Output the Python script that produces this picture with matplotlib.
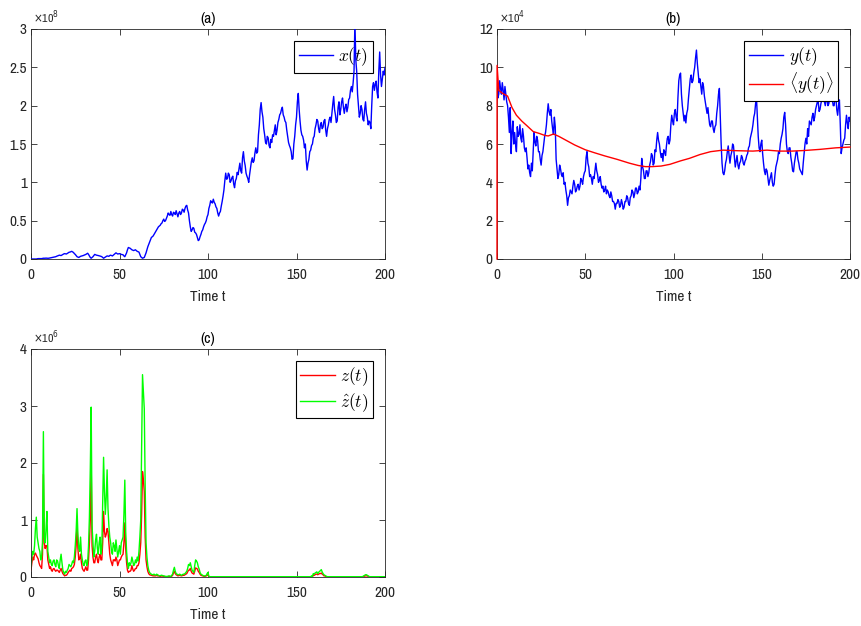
import numpy as np
import matplotlib
matplotlib.use("Agg")
import matplotlib.pyplot as plt
from matplotlib.font_manager import FontProperties, fontManager
from matplotlib.ticker import FuncFormatter

# ---------------- data ----------------
# panel (a): x(t), units of 1e8; values at integer t = 0..200
x_vals = [
    0.00, 0.00, 0.00, 0.00, 0.005, 0.005, 0.005, 0.01, 0.01, 0.01,
    0.01, 0.015, 0.02, 0.025, 0.03, 0.04, 0.05, 0.045, 0.06, 0.07,
    0.065, 0.08, 0.09, 0.10, 0.085, 0.06, 0.03, 0.02, 0.035, 0.04,
    0.05, 0.06, 0.075, 0.04, 0.01, 0.03, 0.06, 0.05, 0.045, 0.04,
    0.03, 0.01, 0.025, 0.04, 0.035, 0.05, 0.04, 0.06, 0.08, 0.065,
    0.07, 0.06, 0.055, 0.03, 0.08, 0.15, 0.14, 0.12, 0.11, 0.12,
    0.10, 0.09, 0.03, 0.01, 0.02, 0.08, 0.16, 0.22, 0.28, 0.30,
    0.34, 0.38, 0.42, 0.44, 0.47, 0.52, 0.50, 0.56, 0.58, 0.62,
    0.56, 0.60, 0.63, 0.55, 0.62, 0.60, 0.64, 0.66, 0.70, 0.60,
    0.42, 0.38, 0.40, 0.34, 0.28, 0.25, 0.32, 0.38, 0.45, 0.50,
    0.58, 0.70, 0.74, 0.78, 0.72, 0.66, 0.56, 0.62, 0.75, 0.90,
    1.12, 1.05, 1.10, 1.02, 1.08, 0.93, 1.05, 1.10, 1.25, 1.12,
    1.40, 1.22, 1.08, 1.00, 1.18, 1.32, 1.28, 1.45, 1.40, 1.75,
    2.04, 1.85, 1.62, 1.50, 1.58, 1.45, 1.52, 1.60, 1.75, 1.68,
    1.82, 1.90, 1.98, 1.85, 1.78, 1.60, 1.48, 1.40, 1.31, 1.60,
    1.85, 2.16, 1.80, 1.62, 1.55, 1.50, 1.16, 1.30, 1.42, 1.50,
    1.60, 1.75, 1.80, 1.65, 1.78, 1.72, 1.82, 1.60, 1.75, 1.85,
    1.90, 2.12, 1.88, 1.80, 2.05, 1.95, 2.10, 1.90, 2.02, 1.98,
    2.10, 2.25, 2.30, 3.10, 2.45, 2.00, 1.90, 1.95, 1.80, 2.05,
    1.85, 1.80, 1.70, 2.25, 2.20, 2.32, 2.10, 2.70, 2.25, 2.45,
    2.50,
]
# x(t) at half-integer t = 0.5..199.5
x_half = [
    0.00, 0.00, 0.00, 0.003, 0.005, 0.004, 0.008, 0.01, 0.012, 0.01,
    0.012, 0.018, 0.022, 0.028, 0.036, 0.045, 0.048, 0.052, 0.066, 0.068,
    0.072, 0.088, 0.095, 0.092, 0.07, 0.045, 0.025, 0.028, 0.038, 0.045,
    0.055, 0.068, 0.06, 0.02, 0.02, 0.045, 0.055, 0.048, 0.042, 0.035,
    0.02, 0.018, 0.032, 0.038, 0.045, 0.045, 0.05, 0.07, 0.072, 0.068,
    0.065, 0.058, 0.04, 0.055, 0.12, 0.145, 0.13, 0.115, 0.115, 0.11,
    0.095, 0.06, 0.02, 0.015, 0.05, 0.12, 0.19, 0.25, 0.29, 0.32,
    0.36, 0.40, 0.43, 0.46, 0.50, 0.49, 0.53, 0.60, 0.57, 0.58,
    0.61, 0.58, 0.59, 0.60, 0.58, 0.65, 0.61, 0.69, 0.64, 0.50,
    0.36, 0.41, 0.35, 0.32, 0.24, 0.29, 0.36, 0.42, 0.47, 0.55,
    0.66, 0.76, 0.73, 0.74, 0.68, 0.60, 0.60, 0.69, 0.82, 1.02,
    1.04, 1.12, 1.00, 1.06, 0.98, 1.02, 1.13, 1.18, 1.15, 1.32,
    1.28, 1.12, 1.05, 1.10, 1.27, 1.26, 1.38, 1.38, 1.62, 1.95,
    1.92, 1.70, 1.52, 1.60, 1.48, 1.56, 1.62, 1.68, 1.62, 1.78,
    1.88, 1.95, 1.88, 1.80, 1.68, 1.52, 1.45, 1.30, 1.50, 1.75,
    2.05, 1.95, 1.68, 1.60, 1.45, 1.28, 1.25, 1.40, 1.48, 1.58,
    1.70, 1.82, 1.70, 1.75, 1.70, 1.80, 1.68, 1.70, 1.82, 1.78,
    2.02, 1.95, 1.78, 1.98, 1.88, 2.05, 1.98, 1.98, 1.92, 2.08,
    2.20, 2.18, 2.45, 2.60, 2.15, 1.85, 2.00, 1.82, 1.95, 1.90,
    1.75, 1.78, 2.00, 2.30, 2.28, 2.18, 2.45, 2.40, 2.35, 2.40,
]

# panel (b): y(t), units of 1e4; integer t = 0..200
y_vals = [
    10.1, 8.6, 8.9, 9.2, 8.3, 8.6, 8.0, 6.6, 5.5, 7.2,
    6.6, 5.6, 6.4, 7.0, 6.1, 6.4, 5.6, 5.3, 4.9, 4.3,
    4.6, 6.6, 5.9, 6.2, 5.6, 4.9, 5.6, 6.4, 7.0, 8.1,
    7.5, 7.2, 6.5, 6.9, 4.7, 4.4, 4.7, 4.3, 3.9, 3.6,
    2.8, 3.3, 3.5, 3.8, 3.9, 3.6, 3.9, 3.8, 4.1, 4.3,
    4.6, 5.6, 4.8, 4.4, 3.9, 4.2, 5.0, 4.4, 4.1, 3.9,
    3.8, 3.6, 3.4, 3.5, 3.2, 3.3, 3.0, 2.6, 2.9, 3.0,
    2.8, 2.9, 2.7, 3.0, 3.2, 2.8, 3.3, 3.5, 3.4, 3.7,
    3.5, 3.6, 5.25, 4.6, 4.2, 4.6, 4.5, 5.1, 5.4, 5.0,
    5.6, 6.6, 6.0, 5.3, 5.1, 5.6, 5.9, 6.4, 6.2, 7.5,
    7.0, 7.8, 7.2, 9.3, 9.7, 8.0, 7.2, 7.1, 7.8, 8.9,
    9.6, 9.3, 10.0, 10.9, 9.7, 9.4, 8.6, 9.0, 8.2, 7.6,
    7.4, 6.9, 7.2, 6.6, 7.0, 8.0, 8.9, 6.0, 4.5, 4.6,
    5.2, 5.9, 5.0, 5.6, 5.9, 4.8, 5.4, 4.7, 5.1, 5.3,
    4.9, 5.2, 5.5, 5.9, 6.5, 7.0, 7.6, 8.45, 6.4, 5.6,
    6.2, 5.0, 4.4, 4.6, 3.85, 4.3, 4.0, 3.9, 4.8, 5.2,
    5.5, 6.3, 6.8, 7.65, 6.0, 5.5, 5.8, 5.0, 4.55, 5.3,
    5.6, 5.0, 4.6, 4.4, 5.5, 6.3, 6.8, 7.2, 7.0, 7.6,
    7.4, 8.0, 8.2, 7.8, 8.3, 8.6, 8.0, 8.4, 8.1, 8.7,
    8.3, 8.0, 8.5, 7.5, 8.3, 5.5, 6.0, 6.3, 7.5, 6.8,
    7.2,
]
# y(t) at half-integer t = 0.5..199.5
y_half = [
    8.4, 9.3, 8.6, 8.8, 9.0, 8.2, 7.4, 7.9, 6.6, 6.0,
    6.0, 6.9, 6.5, 6.3, 6.8, 5.8, 5.8, 4.7, 4.5, 5.0,
    5.6, 6.1, 6.4, 5.6, 5.2, 5.4, 6.0, 6.6, 7.6, 7.7,
    7.8, 6.8, 7.4, 5.2, 4.2, 4.9, 4.4, 4.5, 4.0, 3.3,
    3.2, 3.6, 3.4, 4.1, 3.5, 3.8, 3.6, 4.2, 3.9, 4.5,
    5.3, 5.0, 4.3, 4.2, 4.3, 4.6, 4.6, 4.0, 4.3, 3.7,
    3.5, 3.8, 3.6, 3.3, 3.5, 3.0, 2.9, 2.9, 3.1, 2.7,
    3.1, 2.6, 3.0, 3.3, 2.9, 3.2, 3.6, 3.2, 3.7, 3.4,
    3.8, 4.2, 4.8, 4.2, 4.6, 4.3, 4.9, 5.5, 4.9, 5.7,
    6.2, 6.2, 5.6, 5.5, 5.7, 5.4, 6.3, 6.0, 7.0, 7.2,
    7.6, 7.4, 8.4, 9.6, 8.6, 7.6, 7.5, 7.6, 8.4, 9.4,
    9.2, 9.7, 10.5, 10.2, 9.2, 9.0, 9.2, 8.5, 7.9, 7.9,
    7.0, 7.2, 6.8, 6.9, 7.6, 8.6, 7.5, 5.0, 4.4, 5.0,
    5.6, 5.4, 5.4, 6.0, 5.3, 5.1, 4.9, 5.0, 5.4, 5.0,
    5.1, 5.4, 5.8, 6.3, 6.7, 7.4, 8.1, 7.4, 5.8, 6.0,
    5.5, 4.6, 4.7, 4.2, 4.1, 4.5, 3.8, 4.4, 5.0, 5.6,
    6.0, 6.5, 7.4, 7.0, 5.6, 5.8, 5.3, 4.6, 5.0, 5.6,
    5.2, 4.7, 4.5, 5.0, 6.0, 6.0, 6.4, 7.1, 7.4, 7.2,
    7.8, 8.2, 7.7, 8.1, 8.5, 8.2, 8.3, 8.0, 8.5, 8.6,
    8.0, 8.4, 7.8, 8.0, 7.0, 5.8, 6.2, 7.0, 7.1, 7.4,
]

# panel (b): running mean <y(t)>, units of 1e4
ym_t = [0, 0.05, 1, 3, 5, 6, 8.5, 11, 14, 17, 20.5, 24, 27, 29, 32, 35,
        39, 44, 50, 55, 61, 68, 75, 80, 84, 88, 93, 98, 104, 109, 115,
        121, 128, 136, 145, 153, 160, 167, 174, 183, 192, 200]
ym_vals = [0.0, 10.1, 8.8, 8.65, 8.55, 8.5, 7.9, 7.5, 7.2, 6.95, 6.65,
           6.55, 6.45, 6.42, 6.52, 6.4, 6.2, 5.95, 5.7, 5.55, 5.38, 5.2,
           5.0, 4.88, 4.82, 4.82, 4.85, 4.94, 5.12, 5.25, 5.45, 5.6,
           5.68, 5.65, 5.63, 5.68, 5.63, 5.63, 5.66, 5.72, 5.8, 5.84]

# panel (c): z_hat(t), units of 1e6; integer t = 0..200
zhat_vals = [
    0.18, 0.45, 0.55, 1.05, 0.60, 0.45, 0.35, 2.55, 0.60, 1.15,
    0.35, 0.30, 0.20, 0.30, 0.18, 0.28, 0.15, 0.40, 0.12, 0.05,
    0.08, 0.15, 0.20, 0.22, 0.25, 0.55, 1.20, 0.50, 0.70, 0.30,
    0.20, 0.30, 0.25, 1.05, 2.98, 0.60, 0.45, 0.75, 0.40, 0.70,
    0.50, 2.10, 1.10, 1.88, 0.90, 0.60, 0.40, 0.55, 0.65, 0.35,
    0.55, 0.60, 0.70, 1.70, 0.45, 0.15, 0.20, 0.35, 0.20, 0.30,
    0.35, 0.45, 1.00, 3.55, 2.95, 0.60, 0.20, 0.08, 0.05, 0.04,
    0.04, 0.05, 0.03, 0.02, 0.03, 0.02, 0.01, 0.01, 0.02, 0.01,
    0.05, 0.17, 0.06, 0.04, 0.05, 0.03, 0.05, 0.06, 0.10, 0.22,
    0.25, 0.12, 0.08, 0.30, 0.25, 0.14, 0.05, 0.03, 0.02, 0.03,
    0.08, 0.005, 0.005, 0.005, 0.005, 0.005, 0.005, 0.005, 0.005, 0.005,
    0.005, 0.005, 0.005, 0.005, 0.005, 0.005, 0.005, 0.005, 0.005, 0.005,
    0.005, 0.005, 0.005, 0.005, 0.005, 0.005, 0.005, 0.005, 0.005, 0.005,
    0.005, 0.005, 0.005, 0.005, 0.005, 0.005, 0.005, 0.005, 0.005, 0.005,
    0.005, 0.005, 0.005, 0.005, 0.005, 0.005, 0.005, 0.005, 0.005, 0.005,
    0.005, 0.005, 0.005, 0.005, 0.005, 0.005, 0.005, 0.005, 0.005, 0.01,
    0.05, 0.08, 0.06, 0.10, 0.13, 0.06, 0.03, 0.01, 0.005, 0.005,
    0.005, 0.005, 0.005, 0.005, 0.005, 0.005, 0.005, 0.005, 0.005, 0.005,
    0.005, 0.005, 0.005, 0.005, 0.005, 0.005, 0.005, 0.005, 0.02, 0.04,
    0.03, 0.01, 0.005, 0.005, 0.005, 0.005, 0.005, 0.005, 0.005, 0.005,
    0.005,
]
# z_hat(t) at half-integer t = 0.5..199.5
zhat_half = [
    0.35, 0.40, 0.85, 0.70, 0.50, 0.30, 0.60, 0.70, 0.85, 0.45,
    0.25, 0.22, 0.28, 0.22, 0.30, 0.20, 0.30, 0.25, 0.08, 0.10,
    0.12, 0.22, 0.18, 0.28, 0.35, 0.80, 0.75, 0.45, 0.40, 0.22,
    0.28, 0.20, 0.55, 1.90, 0.90, 0.35, 0.65, 0.50, 0.60, 0.40,
    1.30, 1.50, 1.40, 1.20, 0.70, 0.45, 0.60, 0.45, 0.50, 0.45,
    0.40, 0.65, 1.10, 0.80, 0.25, 0.25, 0.25, 0.28, 0.22, 0.25,
    0.28, 0.70, 2.20, 3.25, 1.60, 0.35, 0.12, 0.06, 0.04, 0.05,
    0.03, 0.04, 0.02, 0.03, 0.02, 0.015, 0.01, 0.015, 0.015, 0.03,
    0.12, 0.10, 0.05, 0.04, 0.04, 0.04, 0.05, 0.08, 0.15, 0.20,
    0.18, 0.10, 0.20, 0.28, 0.18, 0.08, 0.04, 0.02, 0.02, 0.06,
    0.01, 0.005, 0.005, 0.005, 0.005, 0.005, 0.005, 0.005, 0.005, 0.005,
    0.005, 0.005, 0.005, 0.005, 0.005, 0.005, 0.005, 0.005, 0.005, 0.005,
    0.005, 0.005, 0.005, 0.005, 0.005, 0.005, 0.005, 0.005, 0.005, 0.005,
    0.005, 0.005, 0.005, 0.005, 0.005, 0.005, 0.005, 0.005, 0.005, 0.005,
    0.005, 0.005, 0.005, 0.005, 0.005, 0.005, 0.005, 0.005, 0.005, 0.005,
    0.005, 0.005, 0.005, 0.005, 0.005, 0.005, 0.005, 0.005, 0.02, 0.06,
    0.07, 0.09, 0.08, 0.11, 0.09, 0.04, 0.02, 0.005, 0.005, 0.005,
    0.005, 0.005, 0.005, 0.005, 0.005, 0.005, 0.005, 0.005, 0.005, 0.005,
    0.005, 0.005, 0.005, 0.005, 0.005, 0.005, 0.005, 0.01, 0.03, 0.04,
    0.02, 0.005, 0.005, 0.005, 0.005, 0.005, 0.005, 0.005, 0.005, 0.005,
]
# panel (c): z(t), units of 1e6; integer t = 0..200
z_vals = [
    0.12, 0.35, 0.40, 0.38, 0.32, 0.20, 0.15, 1.80, 0.50, 0.55,
    0.22, 0.18, 0.10, 0.15, 0.10, 0.12, 0.08, 0.15, 0.06, 0.02,
    0.03, 0.08, 0.12, 0.15, 0.18, 0.35, 0.95, 0.30, 0.40, 0.15,
    0.10, 0.18, 0.12, 0.60, 2.00, 0.35, 0.25, 0.40, 0.25, 0.40,
    0.30, 1.15, 0.70, 0.85, 0.60, 0.30, 0.20, 0.30, 0.35, 0.20,
    0.30, 0.35, 0.40, 0.95, 0.25, 0.08, 0.10, 0.20, 0.10, 0.15,
    0.20, 0.25, 0.60, 1.85, 1.50, 0.30, 0.10, 0.04, 0.03, 0.02,
    0.02, 0.03, 0.02, 0.01, 0.02, 0.01, 0.005, 0.005, 0.01, 0.005,
    0.03, 0.10, 0.04, 0.02, 0.03, 0.02, 0.03, 0.04, 0.06, 0.12,
    0.15, 0.07, 0.05, 0.16, 0.14, 0.08, 0.03, 0.02, 0.01, 0.02,
    0.04, 0.003, 0.003, 0.003, 0.003, 0.003, 0.003, 0.003, 0.003, 0.003,
    0.003, 0.003, 0.003, 0.003, 0.003, 0.003, 0.003, 0.003, 0.003, 0.003,
    0.003, 0.003, 0.003, 0.003, 0.003, 0.003, 0.003, 0.003, 0.003, 0.003,
    0.003, 0.003, 0.003, 0.003, 0.003, 0.003, 0.003, 0.003, 0.003, 0.003,
    0.003, 0.003, 0.003, 0.003, 0.003, 0.003, 0.003, 0.003, 0.003, 0.003,
    0.003, 0.003, 0.003, 0.003, 0.003, 0.003, 0.003, 0.003, 0.003, 0.005,
    0.03, 0.05, 0.04, 0.06, 0.07, 0.04, 0.02, 0.005, 0.003, 0.003,
    0.003, 0.003, 0.003, 0.003, 0.003, 0.003, 0.003, 0.003, 0.003, 0.003,
    0.003, 0.003, 0.003, 0.003, 0.003, 0.003, 0.003, 0.003, 0.01, 0.02,
    0.02, 0.005, 0.003, 0.003, 0.003, 0.003, 0.003, 0.003, 0.003, 0.003,
    0.003,
]
# z(t) at half-integer t = 0.5..199.5
z_half = [
    0.25, 0.30, 0.42, 0.35, 0.25, 0.18, 0.40, 0.60, 0.55, 0.30,
    0.15, 0.12, 0.14, 0.12, 0.12, 0.10, 0.12, 0.10, 0.04, 0.03,
    0.05, 0.10, 0.10, 0.16, 0.22, 0.55, 0.50, 0.32, 0.25, 0.12,
    0.14, 0.12, 0.30, 1.00, 0.55, 0.25, 0.35, 0.30, 0.35, 0.30,
    0.60, 0.80, 0.75, 0.80, 0.40, 0.25, 0.30, 0.28, 0.30, 0.25,
    0.30, 0.38, 0.60, 0.50, 0.12, 0.10, 0.12, 0.14, 0.12, 0.15,
    0.20, 0.40, 1.10, 1.70, 0.70, 0.18, 0.06, 0.035, 0.025, 0.02,
    0.02, 0.02, 0.015, 0.015, 0.015, 0.008, 0.005, 0.008, 0.008, 0.015,
    0.07, 0.06, 0.03, 0.025, 0.025, 0.025, 0.03, 0.05, 0.09, 0.12,
    0.10, 0.06, 0.10, 0.15, 0.10, 0.05, 0.025, 0.015, 0.015, 0.03,
    0.005, 0.003, 0.003, 0.003, 0.003, 0.003, 0.003, 0.003, 0.003, 0.003,
    0.003, 0.003, 0.003, 0.003, 0.003, 0.003, 0.003, 0.003, 0.003, 0.003,
    0.003, 0.003, 0.003, 0.003, 0.003, 0.003, 0.003, 0.003, 0.003, 0.003,
    0.003, 0.003, 0.003, 0.003, 0.003, 0.003, 0.003, 0.003, 0.003, 0.003,
    0.003, 0.003, 0.003, 0.003, 0.003, 0.003, 0.003, 0.003, 0.003, 0.003,
    0.003, 0.003, 0.003, 0.003, 0.003, 0.003, 0.003, 0.003, 0.01, 0.03,
    0.04, 0.05, 0.05, 0.06, 0.05, 0.02, 0.01, 0.003, 0.003, 0.003,
    0.003, 0.003, 0.003, 0.003, 0.003, 0.003, 0.003, 0.003, 0.003, 0.003,
    0.003, 0.003, 0.003, 0.003, 0.003, 0.003, 0.003, 0.005, 0.015, 0.02,
    0.01, 0.003, 0.003, 0.003, 0.003, 0.003, 0.003, 0.003, 0.003, 0.003,
]

x_ticks = [0, 50, 100, 150, 200]
ya_ticks = [0, 0.5, 1, 1.5, 2, 2.5, 3]
yb_ticks = [0, 2, 4, 6, 8, 10, 12]
yc_ticks = [0, 1, 2, 3, 4]


def merge(whole, half):
    """Put integer-time and half-integer-time readings into one time series."""
    n = len(whole) + len(half)
    t = np.arange(n) * 0.5
    v = np.empty(n)
    v[0::2] = whole
    v[1::2] = half
    return t, v


tx, xs = merge(x_vals, x_half)
ty, ys = merge(y_vals, y_half)
tz, zhs = merge(zhat_vals, zhat_half)
_, zs = merge(z_vals, z_half)

# ---------------- font: prefer a narrow sans face if one is installed ----------------
def pick_narrow():
    cands = []
    for f in fontManager.ttflist:
        n = f.name
        st = str(f.stretch)
        if 'Mono' in n or 'Serif' in n or 'CJK' in n:
            continue
        if 'Narrow' in n or 'Condensed' in n or st in ('condensed', 'semi-condensed'):
            cands.append((0 if 'Liberation' in n else 1, n, f.stretch))
    cands.sort()
    return cands[0] if cands else None


nf = pick_narrow()
if nf is not None:
    plt.rcParams['font.family'] = [nf[1], 'Liberation Sans', 'DejaVu Sans']
    if nf[2] in ('condensed', 'semi-condensed'):
        plt.rcParams['font.stretch'] = nf[2]
    FS = 11
else:
    plt.rcParams['font.family'] = ['Liberation Sans', 'DejaVu Sans']
    FS = 10
TXT = (0.15, 0.15, 0.15)

fig = plt.figure(figsize=(8.61, 6.26), dpi=100)
W, H = 861.0, 626.0


def make_ax(l, r, t, b):
    return fig.add_axes([l / W, 1 - b / H, (r - l) / W, (b - t) / H])


ax_a = make_ax(31, 385, 29, 259)
ax_b = make_ax(497, 850, 29, 259)
ax_c = make_ax(31, 385, 349, 577)

fmt = FuncFormatter(lambda v, p: "%g" % v)
leg_prop = FontProperties(size=12.5, math_fontfamily='cm')
LW = 1.0


def style(ax, yticks, ylim, title, exp):
    ax.set_xlim(0, 200)
    ax.set_ylim(*ylim)
    ax.set_xticks(x_ticks)
    ax.set_yticks(yticks)
    ax.xaxis.set_major_formatter(fmt)
    ax.yaxis.set_major_formatter(fmt)
    ax.tick_params(direction='in', length=4, width=0.6, top=True, right=True,
                   labelsize=FS, colors=TXT)
    ax.tick_params(axis='x', pad=6.5)
    ax.tick_params(axis='y', pad=3)
    for s in ax.spines.values():
        s.set_linewidth(0.6)
        s.set_color(TXT)
    ax.set_xlabel("Time t", fontsize=FS, color=TXT, labelpad=5.5)
    ax.set_title(title, fontsize=FS, color='black', pad=4)
    ax.text(0.005, 1.012, r"$\times$10$^{%d}$" % exp, transform=ax.transAxes,
            fontsize=8.5, color=TXT, ha='left', va='bottom',
            math_fontfamily='dejavusans')


def legend(ax):
    lg = ax.legend(loc='upper right', prop=leg_prop, fancybox=False,
                   edgecolor='black', framealpha=1, handlelength=2.0,
                   handletextpad=0.3, borderpad=0.25, borderaxespad=0.7,
                   labelspacing=0.15)
    lg.get_frame().set_linewidth(0.8)
    return lg


# (a)
ax_a.plot(tx, xs, color=(0, 0, 1), lw=LW, label=r"$x(t)$", zorder=6)
style(ax_a, ya_ticks, (0, 3), "(a)", 8)
legend(ax_a).set_zorder(5)

# (b)
ax_b.plot(ty, ys, color=(0, 0, 1), lw=LW, label=r"$y(t)$")
ax_b.plot(ym_t, ym_vals, color=(1, 0, 0), lw=1.0, label=r"$\langle y(t)\rangle$",
          clip_on=False, zorder=3)
style(ax_b, yb_ticks, (0, 12), "(b)", 4)
legend(ax_b)

# (c)
ax_c.plot(tz, zs, color=(1, 0, 0), lw=LW, label=r"$z(t)$")
ax_c.plot(tz, zhs, color=(0, 1, 0), lw=LW, label=r"$\hat{z}(t)$")
style(ax_c, yc_ticks, (0, 4), "(c)", 6)
legend(ax_c)

fig.savefig("out.png", dpi=100)
